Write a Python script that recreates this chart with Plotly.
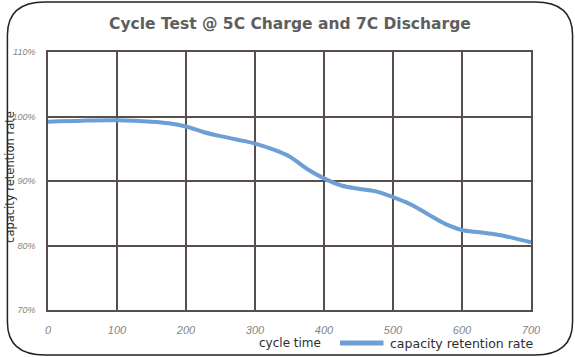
import plotly.graph_objects as go

# ---- data ----
cycles = [0, 50, 100, 150, 175, 200, 225, 250, 275, 300, 325, 350, 375, 400, 425,
          450, 475, 500, 525, 550, 575, 600, 625, 650, 675, 700]
retention = [99.2, 99.35, 99.4, 99.2, 98.95, 98.45, 97.6, 96.95, 96.4, 95.8, 94.95,
             93.8, 91.9, 90.4, 89.3, 88.8, 88.4, 87.5, 86.4, 84.9, 83.4, 82.4,
             82.05, 81.7, 81.15, 80.5]
x_ticks = [0, 100, 200, 300, 400, 500, 600, 700]
x_tick_labels = ["0", "100", "200", "300", "400", "500", "600", "700"]
y_ticks = [70, 80, 90, 100, 110]
y_tick_labels = ["70%", "80%", "90%", "100%", "110%"]

title_text = "Cycle Test @ 5C Charge and 7C Discharge"
x_title = "cycle time"
y_title = "capacity retention rate"
series_name = "capacity retention rate"

# ---- layout geometry (pixels) ----
W, H = 575, 357
L, R, T, B = 43, 44, 52, 47
PW, PH = W - L - R, H - T - B

def px(x):
    return (x - L) / PW

def py(y):
    return (H - B - y) / PH

LINE_COLOR = "#6b9fd5"
GRID = "#574e4e"
TICK_FONT = dict(family="Liberation Sans Narrow, Liberation Sans, Arial", color="#858585", style="italic")

fig = go.Figure()
fig.add_trace(go.Scatter(
    x=cycles, y=retention, mode="lines", name=series_name,
    line=dict(color=LINE_COLOR, width=4, shape="spline", smoothing=1.0),
    showlegend=False, hoverinfo="skip"))

fig.update_layout(
    width=W, height=H,
    margin=dict(l=L, r=R, t=T, b=B),
    paper_bgcolor="white", plot_bgcolor="white",
    xaxis=dict(range=[0, 700], tickvals=x_ticks, ticktext=x_tick_labels,
               showgrid=True, gridcolor=GRID, gridwidth=1.5,
               showline=True, linecolor=GRID, linewidth=1.5, mirror=True,
               zeroline=False, ticks="", ticklabelstandoff=9,
               tickfont=dict(size=11, **TICK_FONT)),
    yaxis=dict(range=[70, 110], tickvals=y_ticks, ticktext=y_tick_labels,
               showgrid=True, gridcolor=GRID, gridwidth=1.5,
               showline=True, linecolor=GRID, linewidth=1.5, mirror=True,
               zeroline=False, ticks="", ticklabelstandoff=9,
               tickfont=dict(size=9, **TICK_FONT)),
)

# rounded outer border
x0, x1, y0, y1 = 2, 573, 2, 355
rx, ry = 38, 33
path = (f"M {px(x0+rx)},{py(y0)} L {px(x1-rx)},{py(y0)} "
        f"Q {px(x1)},{py(y0)} {px(x1)},{py(y0+ry)} "
        f"L {px(x1)},{py(y1-ry)} Q {px(x1)},{py(y1)} {px(x1-rx)},{py(y1)} "
        f"L {px(x0+rx)},{py(y1)} Q {px(x0)},{py(y1)} {px(x0)},{py(y1-ry)} "
        f"L {px(x0)},{py(y0+ry)} Q {px(x0)},{py(y0)} {px(x0+rx)},{py(y0)} Z")
fig.add_shape(type="path", path=path, xref="paper", yref="paper",
              line=dict(color="#222222", width=1.5), layer="above")

# legend line (manual)
fig.add_shape(type="line", xref="paper", yref="paper",
              x0=px(338), x1=px(382), y0=py(343), y1=py(343),
              line=dict(color=LINE_COLOR, width=5))

text_font = dict(family="DejaVu Sans, Verdana, sans-serif", color="#2e2e2e")
fig.add_annotation(text=title_text, xref="paper", yref="paper", x=px(287), y=py(24),
                   showarrow=False, xanchor="center", yanchor="middle",
                   font=dict(family="DejaVu Sans, Verdana, sans-serif", size=15.5,
                             color="#5e5e5e", weight="bold"))
fig.add_annotation(text=x_title, xref="paper", yref="paper", x=px(287), y=py(343),
                   showarrow=False, xanchor="center", yanchor="middle",
                   font=dict(size=12, **text_font))
fig.add_annotation(text=series_name, xref="paper", yref="paper", x=px(387), y=py(343),
                   showarrow=False, xanchor="left", yanchor="middle",
                   font=dict(size=12.5, **text_font))
fig.add_annotation(text=y_title, xref="paper", yref="paper", x=px(4.5), y=py(177),
                   showarrow=False, xanchor="center", yanchor="middle", textangle=-90,
                   font=dict(size=11.5, **text_font))

fig.write_html("out.html", config={"displayModeBar": False},
               post_script="document.body.style.margin='0';document.body.style.overflow='hidden';")
